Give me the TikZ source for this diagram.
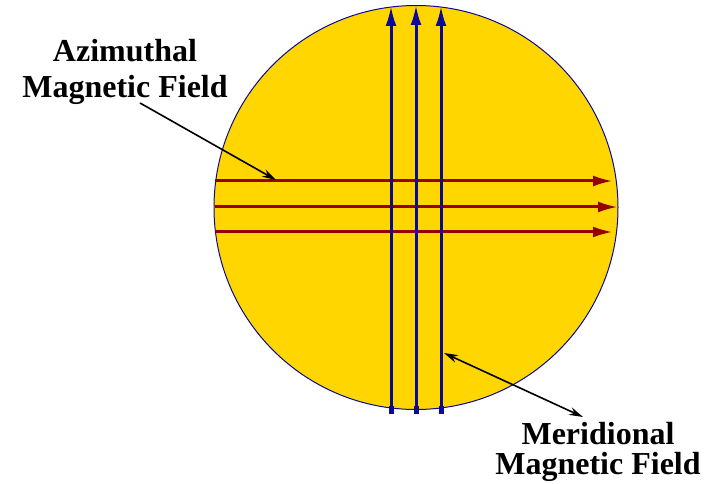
\documentclass[tikz,border=0pt]{standalone}
\usepackage{fontspec}
\setmainfont{Liberation Serif}
\usetikzlibrary{arrows.meta}
\definecolor{sun}{RGB}{255,214,0}
\definecolor{fieldred}{RGB}{150,0,0}
\definecolor{fieldblue}{RGB}{10,10,150}
\tikzset{
  redline/.style={draw=fieldred,line width=3pt,-{Latex[length=20pt,width=11pt]}},
  blueline/.style={draw=fieldblue,line width=3pt,-{Latex[length=20pt,width=11pt]}},
  pointer/.style={draw=black,line width=1.6pt},
  lbl/.style={align=center,inner sep=0pt}
}
\begin{document}
\begin{tikzpicture}[x=1pt,y=-1pt]
\useasboundingbox (0,0) rectangle (716,484);
\node[circle,draw=fieldblue,fill=sun,line width=1pt,minimum size=404pt,inner sep=0pt] (sun) at (416,207.5) {};
% horizontal (azimuthal) field lines
\coordinate (h1s) at (215,181); \coordinate (h1e) at (613,181);
\coordinate (h2s) at (215,207); \coordinate (h2e) at (618,207);
\coordinate (h3s) at (215,232); \coordinate (h3e) at (613,232);
\draw[redline] (h1s) -- (h1e);
\draw[redline] (h2s) -- (h2e);
\draw[redline] (h3s) -- (h3e);
% vertical (meridional) field lines
\coordinate (v1s) at (391,410); \coordinate (v1e) at (391,6);
\coordinate (v2s) at (416,410); \coordinate (v2e) at (416,5);
\coordinate (v3s) at (441,410); \coordinate (v3e) at (441,6);
\draw[blueline] (v1s) -- (v1e);
\draw[blueline] (v2s) -- (v2e);
\draw[blueline] (v3s) -- (v3e);
\foreach \c in {v1s,v2s,v3s}{\fill[fieldblue] ([xshift=-2.5pt,yshift=4pt]\c) rectangle ([xshift=2.5pt,yshift=-4pt]\c);}
% labels
\node[lbl,font=\bfseries\fontsize{32}{36}\selectfont] (az) at (125,72) {Azimuthal\\Magnetic Field};
\node[lbl,font=\bfseries\fontsize{32}{30}\selectfont] (me) at (598,452) {Meridional\\Magnetic Field};
\coordinate (azfrom) at (140,103);
\coordinate (azto) at (276,180);
\coordinate (mefrom) at (583,417);
\coordinate (meto) at (444,353);
\draw[pointer,-{Stealth[length=14pt,width=8pt]}] (azfrom) -- (azto);
\draw[pointer,{Stealth[length=14pt,width=8pt]}-{Stealth[length=14pt,width=8pt]}] (mefrom) -- (meto);
\end{tikzpicture}
\end{document}
